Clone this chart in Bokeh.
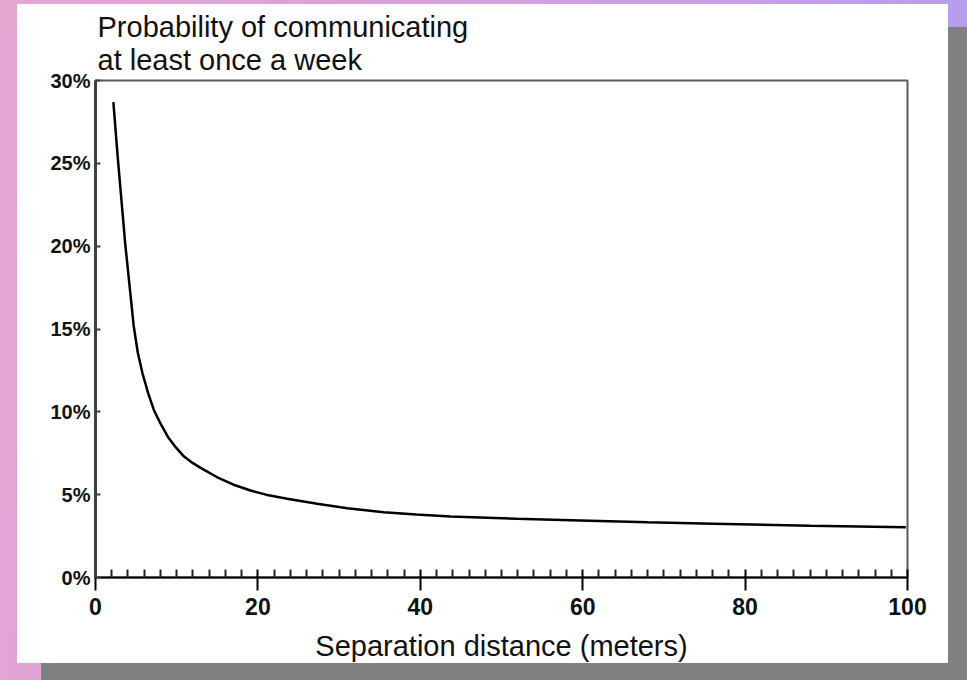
from bokeh.plotting import figure
from bokeh.models import Title, FixedTicker, PrintfTickFormatter, Range1d
from bokeh.embed import file_html
from bokeh.resources import INLINE

# ---- data ----
distance = [2.2, 2.75, 3.65, 4.7, 5.2, 5.8, 6.5, 7.2, 8.0, 8.9, 9.9, 10.9,
            12.0, 13.0, 15.0, 17.0, 19.1, 21.0, 23.6, 27.3, 31.0, 35.5, 39.5,
            43.7, 51.9, 59.7, 68.0, 76.1, 88.0, 99.8]
probability = [28.7, 25.3, 20.2, 15.2, 13.6, 12.3, 11.1, 10.1, 9.3, 8.5, 7.85,
               7.3, 6.9, 6.6, 6.05, 5.6, 5.25, 5.0, 4.75, 4.45, 4.18, 3.94,
               3.8, 3.68, 3.54, 3.44, 3.33, 3.24, 3.12, 3.04]
x_ticks = [0, 20, 40, 60, 80, 100]
x_minor_ticks = [d for d in range(2, 100, 2) if d % 20]
y_ticks = [0, 5, 10, 15, 20, 25, 30]
title_lines = ["Probability of communicating", "at least once a week"]
x_label = "Separation distance (meters)"

FONT = "Liberation Sans"
W, H = 967, 680

p = figure(width=W, height=H, x_range=Range1d(0, 100), y_range=Range1d(0, 30),
           output_backend="svg", toolbar_location=None, title=None,
           min_border_left=95, min_border_right=60,
           min_border_top=80, min_border_bottom=103)
p.border_fill_color = None
p.background_fill_color = "white"
p.outline_line_color = "#5a5a5a"
p.outline_line_width = 2
p.grid.visible = False
p.styles = {
    "background": (
        "linear-gradient(#ffffff,#ffffff) 17px 4px / 931px 659px no-repeat, "
        "linear-gradient(#808080,#808080) 41px 27px / 2000px 2000px no-repeat, "
        "linear-gradient(100deg, #E6A6D2 0%, #D6A0DE 45%, #B09CF2 100%)"
    )
}

p.line(distance, probability, line_color="black", line_width=2.5)

# x axis
xa = p.xaxis[0]
xa.ticker = FixedTicker(ticks=x_ticks, minor_ticks=x_minor_ticks)
xa.axis_line_color = "black"
xa.axis_line_width = 2
xa.major_tick_line_color = "black"
xa.major_tick_line_width = 2
xa.major_tick_in = 8
xa.major_tick_out = 13
xa.minor_tick_line_color = "#222222"
xa.minor_tick_line_width = 2
xa.minor_tick_in = 8
xa.minor_tick_out = 0
xa.major_label_text_font = FONT
xa.major_label_text_font_size = "23px"
xa.major_label_text_font_style = "bold"
xa.major_label_text_color = "#111111"
xa.major_label_standoff = 7
xa.axis_label = x_label
xa.axis_label_text_font = FONT
xa.axis_label_text_font_size = "29px"
xa.axis_label_text_font_style = "normal"
xa.axis_label_text_color = "#111111"
xa.axis_label_standoff = 12

# y axis
ya = p.yaxis[0]
ya.ticker = FixedTicker(ticks=y_ticks, minor_ticks=[])
ya.formatter = PrintfTickFormatter(format="%d%%")
ya.axis_line_color = "#404040"
ya.axis_line_width = 3
ya.major_tick_line_color = "#404040"
ya.major_tick_line_width = 2
ya.major_tick_in = 5
ya.major_tick_out = 0
ya.minor_tick_line_color = None
ya.major_label_text_font = FONT
ya.major_label_text_font_size = "20px"
ya.major_label_text_font_style = "bold"
ya.major_label_text_color = "#111111"
ya.major_label_standoff = 5

# two-line heading above the frame (inner line added first)
for txt, so in [(title_lines[1], 10), (title_lines[0], -12)]:
    p.add_layout(Title(text=txt, align="left", offset=2, standoff=so,
                       text_font=FONT, text_font_size="29px",
                       text_font_style="normal", text_color="#111111"),
                 "above")

open("out.html", "w").write(file_html(p, INLINE))
